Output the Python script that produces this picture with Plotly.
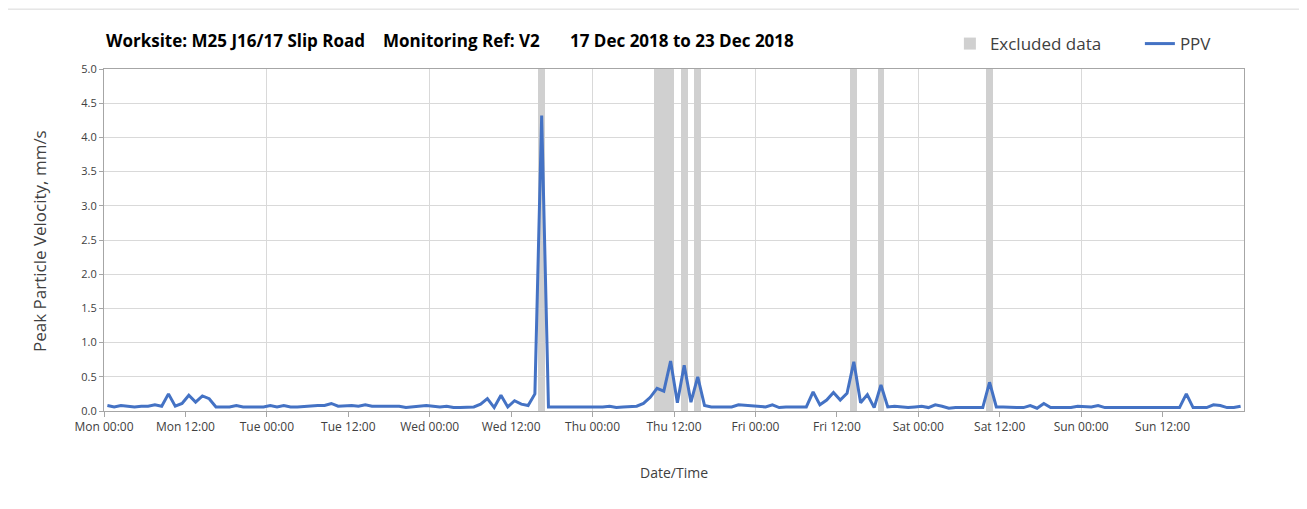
import plotly.graph_objects as go
import pandas as pd

start = pd.Timestamp("2018-12-17 00:00")

# Hourly PPV values (mm/s), Mon 17 Dec 00:00 -> Sun 23 Dec 23:00
ppv_mon = [0.08, 0.06, 0.08, 0.07, 0.06, 0.07, 0.07, 0.09, 0.07, 0.25, 0.07, 0.11,
           0.23, 0.13, 0.22, 0.18, 0.06, 0.06, 0.06, 0.08, 0.06, 0.06, 0.06, 0.06]
ppv_tue = [0.08, 0.06, 0.08, 0.06, 0.06, 0.07, 0.07, 0.08, 0.08, 0.11, 0.07, 0.08,
           0.08, 0.07, 0.09, 0.07, 0.07, 0.06, 0.07, 0.07, 0.05, 0.06, 0.06, 0.08]
ppv_wed = [0.07, 0.06, 0.07, 0.05, 0.05, 0.05, 0.06, 0.10, 0.18, 0.05, 0.23, 0.06,
           0.15, 0.10, 0.08, 0.25, 4.32, 0.06, 0.06, 0.06, 0.06, 0.06, 0.05, 0.06]
ppv_thu = [0.06, 0.06, 0.07, 0.05, 0.06, 0.06, 0.07, 0.11, 0.20, 0.33, 0.29, 0.73,
           0.12, 0.67, 0.13, 0.50, 0.08, 0.06, 0.06, 0.05, 0.06, 0.09, 0.08, 0.08]
ppv_fri = [0.07, 0.06, 0.09, 0.05, 0.06, 0.06, 0.06, 0.06, 0.28, 0.09, 0.16, 0.27,
           0.16, 0.26, 0.72, 0.12, 0.24, 0.05, 0.38, 0.06, 0.07, 0.06, 0.05, 0.06]
ppv_sat = [0.07, 0.05, 0.09, 0.07, 0.04, 0.05, 0.05, 0.05, 0.05, 0.05, 0.42, 0.06,
           0.06, 0.05, 0.05, 0.05, 0.08, 0.04, 0.11, 0.05, 0.05, 0.05, 0.05, 0.07]
ppv_sun = [0.07, 0.06, 0.08, 0.05, 0.05, 0.05, 0.05, 0.05, 0.05, 0.05, 0.05, 0.05,
           0.05, 0.05, 0.05, 0.25, 0.05, 0.05, 0.05, 0.09, 0.08, 0.05, 0.05, 0.07]

# Hours (from Mon 00:00) flagged as excluded data
excluded_hours = [64, 81, 82, 83, 85, 87, 110, 114, 130]
excluded_level = 5.0

tick_labels = ["Mon 00:00", "Mon 12:00", "Tue 00:00", "Tue 12:00", "Wed 00:00", "Wed 12:00",
               "Thu 00:00", "Thu 12:00", "Fri 00:00", "Fri 12:00", "Sat 00:00", "Sat 12:00",
               "Sun 00:00", "Sun 12:00"]

ppv = ppv_mon + ppv_tue + ppv_wed + ppv_thu + ppv_fri + ppv_sat + ppv_sun
times = [start + pd.Timedelta(hours=h + 0.5) for h in range(len(ppv))]
excl_x = [start + pd.Timedelta(hours=h + 0.5) for h in excluded_hours]
excl_y = [excluded_level] * len(excluded_hours)
tick_vals = [start + pd.Timedelta(hours=12 * i) for i in range(len(tick_labels))]

FONT = "Open Sans"
TXT = "#404040"
GRID = "#d9d9d9"
AXL = "#a6a6a6"

fig = go.Figure()
fig.add_trace(go.Bar(x=excl_x, y=excl_y, width=3600000, name="Excluded data",
                     marker=dict(color="#d0d0d0", line=dict(width=0)), hoverinfo="skip"))
fig.add_trace(go.Scatter(x=times, y=ppv, mode="lines", name="PPV",
                         line=dict(color="#4472C4", width=3)))

fig.update_layout(
    width=1307, height=509,
    margin=dict(l=96, r=71, t=61, b=106, autoexpand=False),
    paper_bgcolor="white", plot_bgcolor="white",
    font=dict(family=FONT, color=TXT),
    bargap=0,
    showlegend=True,
    legend=dict(orientation="h", x=0.742, xanchor="left", y=1.073, yanchor="middle",
                font=dict(size=17, color=TXT), bgcolor="rgba(0,0,0,0)", itemwidth=30,
                entrywidth=145, traceorder="normal"),
    xaxis=dict(type="date", range=[start, start + pd.Timedelta(days=7)],
               tickmode="array", tickvals=tick_vals, ticktext=tick_labels,
               showgrid=False, ticks="outside", ticklen=5, tickcolor=AXL,
               showline=True, linecolor=AXL, linewidth=1, mirror=True,
               tickfont=dict(size=12, color=TXT), zeroline=False,
               minor=dict(dtick=86400000, tick0=start, showgrid=True, gridcolor=GRID,
                          gridwidth=1, ticklen=0)),
    yaxis=dict(range=[0, 5], dtick=0.5, tick0=0, tickformat=".1f",
               showgrid=True, gridcolor=GRID, gridwidth=1,
               ticks="outside", ticklen=4, tickcolor=AXL,
               showline=True, linecolor=AXL, linewidth=1, mirror=True,
               tickfont=dict(size=11, color=TXT), zeroline=False),
    shapes=[dict(type="rect", xref="paper", yref="paper",
                 x0=-0.0855, x1=1.07, y0=-0.32, y1=1.175,
                 line=dict(color=GRID, width=1), fillcolor="rgba(0,0,0,0)", layer="below")],
    annotations=[
        dict(text="<b>Worksite: M25 J16/17 Slip Road</b>", xref="paper", yref="paper",
             x=0.0, y=1.082, xanchor="left", yanchor="middle", showarrow=False,
             font=dict(size=17, color="#000000")),
        dict(text="<b>Monitoring Ref: V2</b>", xref="paper", yref="paper",
             x=0.243, y=1.082, xanchor="left", yanchor="middle", showarrow=False,
             font=dict(size=17, color="#000000")),
        dict(text="<b>17 Dec 2018 to 23 Dec 2018</b>", xref="paper", yref="paper",
             x=0.407, y=1.082, xanchor="left", yanchor="middle", showarrow=False,
             font=dict(size=17, color="#000000")),
        dict(text="Date/Time", xref="paper", yref="paper", x=0.5, y=-0.181,
             xanchor="center", yanchor="middle", showarrow=False,
             font=dict(size=14, color=TXT)),
        dict(text="Peak Particle Velocity, mm/s", xref="paper", yref="paper",
             x=-0.057, y=0.497, xanchor="center", yanchor="middle", textangle=-90,
             showarrow=False, font=dict(size=17, color=TXT)),
    ],
)

fig.write_html("out.html")
